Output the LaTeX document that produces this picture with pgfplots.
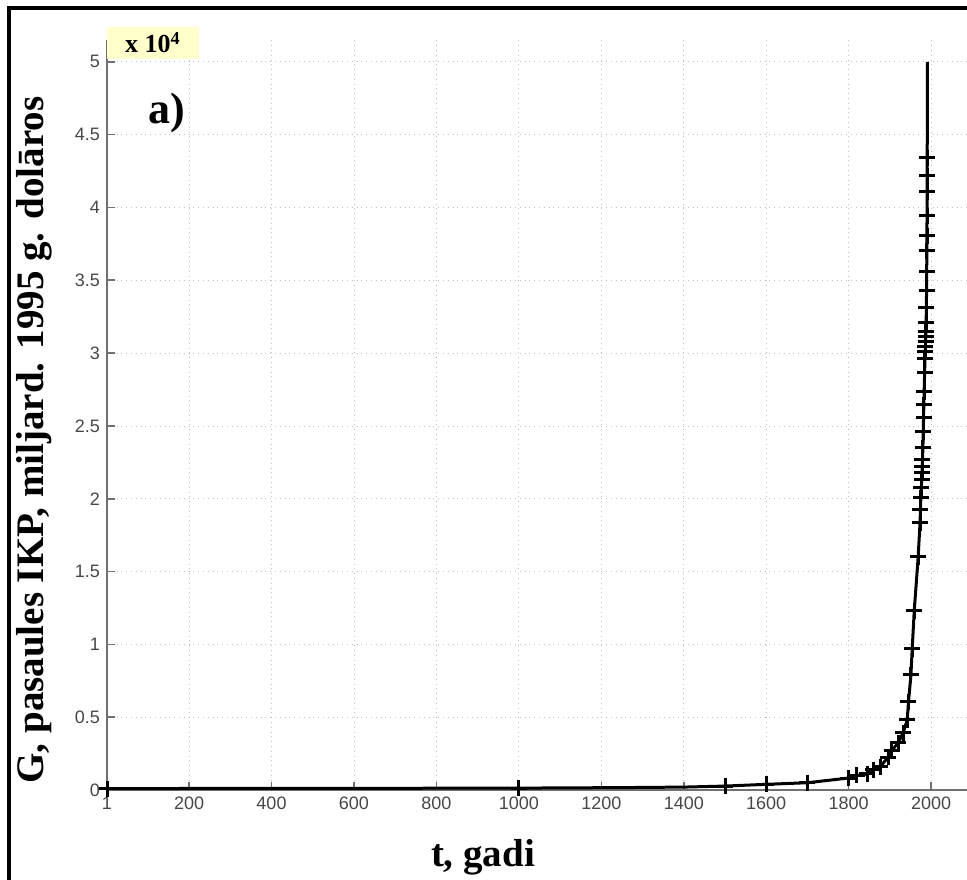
\documentclass[border=0pt]{standalone}
\usepackage{fontspec}
\setmainfont{Liberation Serif}
\newfontfamily\arialfont{Liberation Sans}
\usepackage{pgfplots}
\pgfplotsset{compat=1.18}
\definecolor{boxyellow}{HTML}{FFFFCC}
\definecolor{axgray}{HTML}{707070}

\begin{document}
\begin{tikzpicture}
\useasboundingbox (0,0) rectangle (483.5pt,439.5pt);
% frame of the scanned figure (left and top edges only)
\draw[line width=1.6pt] (4.5pt,-5pt) -- (4.5pt,435.5pt) -- (490pt,435.5pt);
\begin{axis}[
  at={(53.5pt,44.5pt)}, anchor=south west,
  scale only axis, width=430pt, height=375pt,
  xmin=1, xmax=2087, ymin=0, ymax=51500,
  axis x line=bottom, axis y line=left,
  axis line style={axgray, line width=1pt, -},
  xtick={1,200,400,600,800,1000,1200,1400,1600,1800,2000},
  ytick={0,5000,10000,15000,20000,25000,30000,35000,40000,45000,50000},
  yticklabels={0,0.5,1,1.5,2,2.5,3,3.5,4,4.5,5},
  scaled ticks=false,
  /pgf/number format/assume math mode=true,
  xticklabel={\pgfmathprintnumber[fixed,precision=0,1000 sep={}]{\tick}},
  tick label style={font=\arialfont\fontsize{9}{10}\selectfont, text=black!72},
  grid=major, grid style={dotted, black!25},
  tick align=inside, major tick length=4pt,
  tick style={axgray, line width=0.8pt},
  clip=false,
]
% model curve
\addplot[black, line width=1.5pt] coordinates {
  (1,100) (500,110) (1000,130) (1250,165) (1400,200) (1500,270) (1600,390)
  (1700,500) (1799,820) (1820,1000) (1845,1100) (1860,1374) (1876,1580)
  (1896,2266) (1905,2747) (1920,3228) (1932,3915) (1942,4808) (1945,6044)
  (1951,7898) (1954,9684) (1959,12294) (1968.5,16003) (1973,18338)
  (1975,20055) (1978,21772) (1980,23489) (1983,27335) (1985,29601)
  (1987,31112) (1988.5,33104) (1989.6,37019) (1990.3,41071) (1990.5,43406)
  (1990.8,50000)
};
% data points
\addplot[black, only marks, mark=+, mark size=4pt, line width=1.5pt] coordinates {
  (1,100) (1000,130) (1500,270) (1600,390) (1700,500) (1799,820)
  (1820,1000) (1845,1100) (1860,1374) (1876,1580) (1896,2266) (1905,2747)
  (1920,3228) (1932,3915) (1942,4808) (1945,6044) (1951,7898) (1954,9684)
  (1959,12294) (1968.5,16003) (1973,18338) (1974,19230) (1975,20055)
  (1976,20741) (1977,21290) (1978,21772) (1978.5,22184) (1979,22664)
  (1980,23489) (1981,24588) (1981.5,25549) (1982,26442) (1983,27335)
  (1984,28640) (1985,29601) (1985.5,30082) (1986,30426) (1986.5,30769)
  (1987,31112) (1987.5,31456) (1988,32074) (1988.5,33104) (1989,34272)
  (1989.3,35577) (1989.6,37019) (1990,38049) (1990,39423) (1990.3,41071)
  (1990.3,42170) (1990.5,43406)
};
\end{axis}
% exponent box
\node[fill=boxyellow, inner sep=0pt, minimum width=46pt, minimum height=16pt,
      anchor=south west] at (53.5pt,410pt) {};
\node[anchor=base, font=\bfseries\fontsize{13}{14}\selectfont] at (76.5pt,413pt) {x 10\textsuperscript{4}};
% panel label
\node[anchor=base west, inner sep=0pt, font=\bfseries\fontsize{22}{24}\selectfont] at (74pt,377.5pt) {a)};
% axis titles
\node[rotate=90, anchor=base, inner sep=0pt, font=\bfseries\fontsize{19.5}{22}\selectfont]
  at (21.5pt,219.5pt) {G, pasaules IKP, miljard. 1995 g. dolāros};
\node[anchor=base, inner sep=0pt, font=\bfseries\fontsize{19.5}{22}\selectfont]
  at (241.5pt,6.5pt) {t, gadi};
\end{tikzpicture}
\end{document}
